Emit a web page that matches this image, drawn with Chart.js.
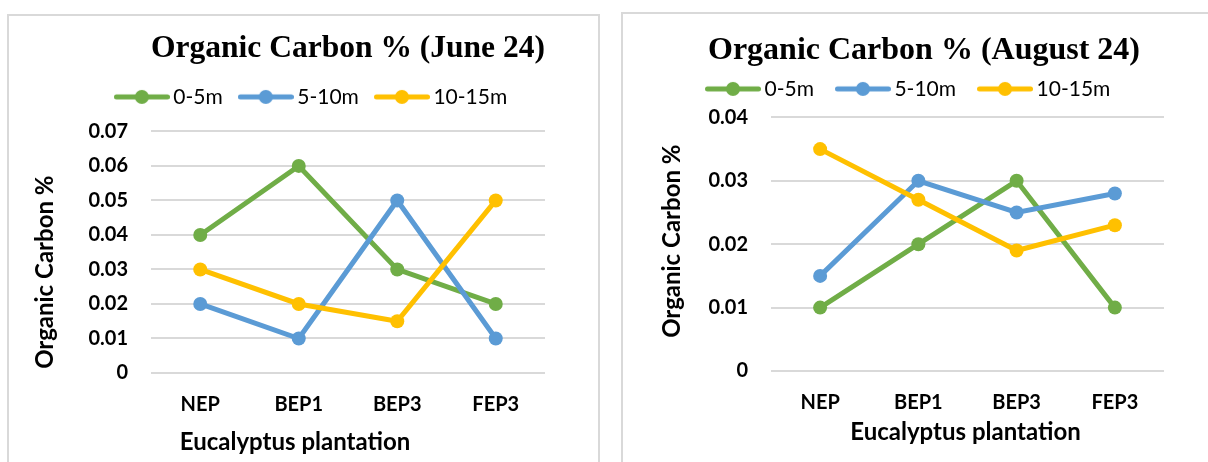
<!DOCTYPE html>
<html>
<head>
<meta charset="utf-8">
<title>Organic Carbon %</title>
<script src="https://cdn.jsdelivr.net/npm/chart.js@4.4.1/dist/chart.umd.min.js"></script>
<style>
  html, body { margin: 0; padding: 0; background: #ffffff; }
  body { position: relative; width: 1208px; height: 462px; overflow: hidden; }
  .frame { position: absolute; border: 2px solid #d9d9d9; box-sizing: border-box; }
  #frameJune { left: 7px; top: 14px; width: 593px; height: 470px; }
  #frameAug { left: 621px; top: 12px; width: 600px; height: 470px; }
  canvas { position: absolute; top: 0; }
  #juneChart { left: 9px; }
  #augChart { left: 623px; }
</style>
</head>
<body>
<div class="frame" id="frameJune"></div>
<div class="frame" id="frameAug"></div>
<canvas id="juneChart" width="588" height="462"></canvas>
<canvas id="augChart" width="585" height="462"></canvas>
<script>
// Sampling sites along the x axis and the three distance bands
const sites = ['NEP', 'BEP1', 'BEP3', 'FEP3'];
const bands = ['0-5m', '5-10m', '10-15m'];
const bandColors = ['#70AD47', '#5B9BD5', '#FFC000'];

// Organic carbon (%) measured in June 2024
const june0to5 = [0.04, 0.06, 0.03, 0.02];
const june5to10 = [0.02, 0.01, 0.05, 0.01];
const june10to15 = [0.03, 0.02, 0.015, 0.05];

// Organic carbon (%) measured in August 2024
const august0to5 = [0.01, 0.02, 0.03, 0.01];
const august5to10 = [0.015, 0.03, 0.025, 0.028];
const august10to15 = [0.035, 0.027, 0.019, 0.023];

// Value axis ticks
const juneTicks = [0, 0.01, 0.02, 0.03, 0.04, 0.05, 0.06, 0.07];
const juneTickLabels = ['0', '0.01', '0.02', '0.03', '0.04', '0.05', '0.06', '0.07'];
const augustTicks = [0, 0.01, 0.02, 0.03, 0.04];
const augustTickLabels = ['0', '0.01', '0.02', '0.03', '0.04'];

const TEXT = '#000000';
const GRID = '#d9d9d9';

// Legend marker: a short line with a dot in the middle
function lineMarker(color) {
  const c = document.createElement('canvas');
  c.width = 56; c.height = 16;
  const g = c.getContext('2d');
  g.strokeStyle = color; g.lineWidth = 5; g.lineCap = 'round';
  g.beginPath(); g.moveTo(2.5, 8); g.lineTo(53.5, 8); g.stroke();
  g.fillStyle = color;
  g.beginPath(); g.arc(28, 8, 7, 0, Math.PI * 2); g.fill();
  return c;
}
const markers = bandColors.map(lineMarker);

// Empty band between the legend and the plot area
const legendGap = {
  id: 'legendGap',
  beforeInit(chart) {
    Chart.layouts.addBox(chart, {
      position: 'top', weight: 0, fullSize: false,
      options: { stackWeight: 1 },
      left: 0, top: 0, right: 0, bottom: 0, width: 0, height: 0,
      isHorizontal() { return true; },
      getPadding() { return { top: 0, left: 0, right: 0, bottom: 0 }; },
      update(maxWidth) {
        this.width = maxWidth;
        this.height = chart.options.plugins.legendGap.size;
      },
      draw() {}
    });
  }
};

// Axis titles placed relative to the plot area
const axisCaptions = {
  id: 'axisCaptions',
  afterDraw(chart, args, opts) {
    const { ctx, chartArea: a } = chart;
    ctx.save();
    ctx.font = 'bold ' + opts.size + 'px Lato';
    ctx.fillStyle = TEXT;
    ctx.textAlign = 'center';
    ctx.textBaseline = 'middle';
    ctx.fillText(opts.x.text, (a.left + a.right) / 2 + opts.x.shift, a.bottom + opts.x.gap);
    ctx.translate(a.left - opts.y.gap, (a.top + a.bottom) / 2 + opts.y.shift);
    ctx.rotate(-Math.PI / 2);
    ctx.fillText(opts.y.text, 0, 0);
    ctx.restore();
  }
};

function buildChart(canvasId, cfg) {
  const datasets = cfg.series.map((values, i) => ({
    label: bands[i],
    data: values,
    borderColor: bandColors[i],
    backgroundColor: bandColors[i],
    pointBackgroundColor: bandColors[i],
    pointBorderColor: bandColors[i],
    borderWidth: 5,
    pointRadius: 7,
    pointBorderWidth: 0,
    pointHoverRadius: 7,
    tension: 0,
    clip: false,
    order: cfg.series.length - i
  }));

  return new Chart(document.getElementById(canvasId), {
    type: 'line',
    data: { labels: sites, datasets },
    plugins: [legendGap, axisCaptions],
    options: {
      responsive: false,
      animation: false,
      devicePixelRatio: 1,
      events: [],
      layout: { padding: cfg.padding },
      plugins: {
        tooltip: { enabled: false },
        title: {
          display: true,
          text: cfg.title,
          fullSize: cfg.titleFullSize,
          color: TEXT,
          font: { family: 'Liberation Serif', weight: 'bold', size: 32, lineHeight: 1.2 },
          padding: cfg.titlePadding
        },
        legend: {
          display: true,
          position: 'top',
          align: cfg.legendAlign,
          fullSize: true,
          labels: {
            usePointStyle: true,
            pointStyleWidth: 42,
            padding: cfg.legendPadding,
            color: TEXT,
            font: { family: 'Lato', size: 21 },
            generateLabels(chart) {
              return chart.data.datasets.map((ds, i) => ({
                text: ds.label,
                pointStyle: markers[i],
                fillStyle: ds.borderColor,
                strokeStyle: ds.borderColor,
                fontColor: TEXT,
                lineWidth: 0,
                hidden: !chart.isDatasetVisible(i),
                datasetIndex: i
              }));
            }
          }
        },
        legendGap: { size: cfg.gap },
        axisCaptions: {
          size: 24,
          x: { text: 'Eucalyptus plantation', shift: cfg.xTitle[0], gap: cfg.xTitle[1] },
          y: { text: 'Organic Carbon %', gap: cfg.yTitle[0], shift: cfg.yTitle[1] }
        }
      },
      scales: {
        x: {
          type: 'category',
          offset: true,
          grid: { display: false, drawTicks: false },
          border: { display: false },
          ticks: { color: TEXT, padding: 20, font: { family: 'Lato', weight: 'bold', size: 20 } },
          afterFit(scale) { scale.height = cfg.xHeight; scale.paddingLeft = 0; scale.paddingRight = 0; }
        },
        y: {
          min: 0,
          max: cfg.ticks[cfg.ticks.length - 1],
          grid: { color: GRID, lineWidth: 2, drawTicks: false },
          border: { display: false },
          afterBuildTicks(scale) { scale.ticks = cfg.ticks.map(value => ({ value })); },
          ticks: {
            color: TEXT,
            padding: 23,
            font: { family: 'Lato', weight: 'bold', size: 20 },
            callback(value) {
              const k = cfg.ticks.findIndex(t => Math.abs(t - value) < 1e-9);
              return k >= 0 ? cfg.tickLabels[k] : '';
            }
          },
          afterFit(scale) { scale.width = cfg.yWidth; }
        }
      }
    }
  });
}

buildChart('juneChart', {
  title: 'Organic Carbon % (June 24)',
  series: [june0to5, june5to10, june10to15],
  ticks: juneTicks,
  tickLabels: juneTickLabels,
  padding: { left: 74, right: 52, top: 0, bottom: 0 },
  titleFullSize: false,
  titlePadding: { top: 30, bottom: -4 },
  legendAlign: 'center',
  legendPadding: 22,
  gap: 14,
  yWidth: 68,
  xHeight: 89,
  xTitle: [-53, 69],
  yTitle: [106, 20]
});

buildChart('augChart', {
  title: 'Organic Carbon % (August 24)',
  series: [august0to5, august5to10, august10to15],
  ticks: augustTicks,
  tickLabels: augustTickLabels,
  padding: { left: 61, right: 44, top: 0, bottom: 0 },
  titleFullSize: true,
  titlePadding: { top: 32, bottom: -20 },
  legendAlign: 'start',
  legendPadding: 28,
  gap: 8,
  yWidth: 87,
  xHeight: 91,
  xTitle: [-2, 61],
  yTitle: [99, -3]
});
</script>
</body>
</html>
